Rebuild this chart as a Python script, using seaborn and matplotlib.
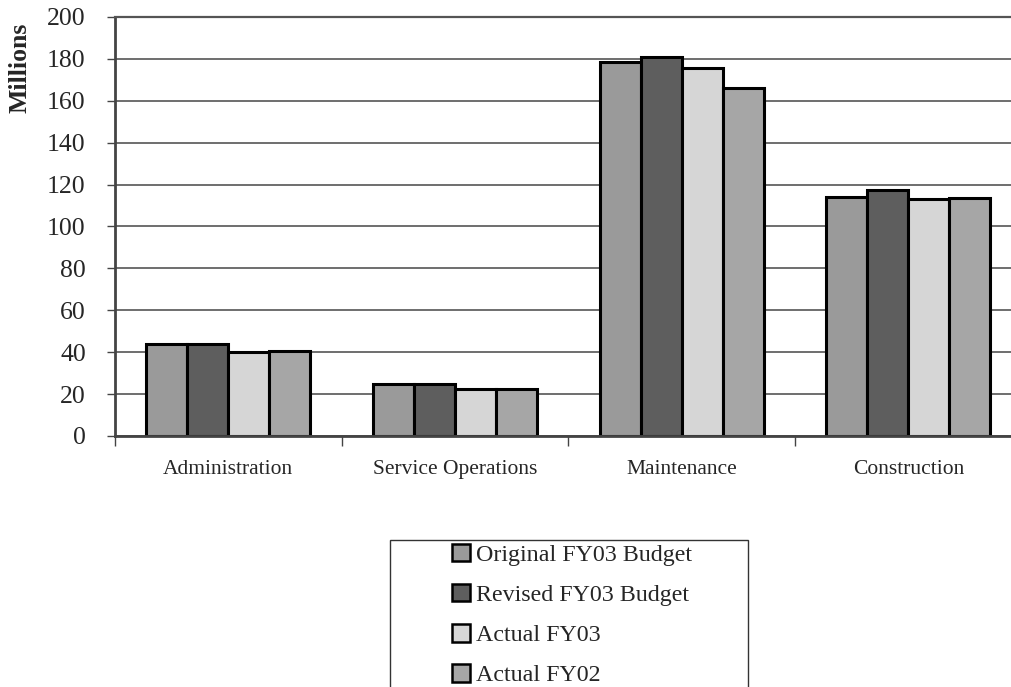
import pandas as pd
import numpy as np
import seaborn as sns
import matplotlib.pyplot as plt
from matplotlib.patches import Rectangle, Patch

categories = ["Administration", "Service Operations", "Maintenance", "Construction"]
series = ["Original FY03 Budget", "Revised FY03 Budget", "Actual FY03", "Actual FY02"]
original_fy03 = [43.8, 24.8, 178.5, 114.2]
revised_fy03 = [44.0, 25.0, 181.0, 117.5]
actual_fy03 = [40.2, 22.3, 175.5, 113.0]
actual_fy02 = [40.5, 22.4, 166.0, 113.6]
colors = ["#9a9a9a", "#5e5e5e", "#d6d6d6", "#a6a6a6"]

df = pd.DataFrame({
    "category": categories * 4,
    "series": np.repeat(series, 4),
    "value": original_fy03 + revised_fy03 + actual_fy03 + actual_fy02,
})

sns.set_style("white")
plt.rcParams["font.family"] = ["Liberation Serif", "DejaVu Serif"]

fig = plt.figure(figsize=(10.12, 6.87), dpi=100)
ax = fig.add_axes([0.1136, 0.3654, 0.896, 0.6099])

sns.barplot(data=df, x="category", y="value", hue="series", order=categories,
            hue_order=series, palette=colors, edgecolor="black", linewidth=2.2,
            width=0.723, gap=0, saturation=1, ax=ax, legend=False)

ax.set_ylim(0, 200)
ax.set_xlim(-0.5, 3.5)
ax.set_yticks(range(0, 201, 20))
ax.yaxis.grid(True, color="#555555", linewidth=1.2)
ax.set_axisbelow(True)
ax.set_xlabel("")
ax.set_ylabel("")

ax.spines["right"].set_visible(False)
ax.spines["top"].set_color("#555555")
ax.spines["top"].set_linewidth(1.6)
ax.spines["top"].set_linestyle((0, (2, 1)))
for s in ["left", "bottom"]:
    ax.spines[s].set_color("#444444")
    ax.spines[s].set_linewidth(2)

ax.tick_params(axis="y", which="major", left=True, length=6, width=1, color="#444444",
               pad=15, labelsize=18.5)
ax.tick_params(axis="x", which="major", length=0, pad=17, labelsize=15.5)
ax.set_xticks([-0.5, 0.5, 1.5, 2.5, 3.5], minor=True)
ax.tick_params(axis="x", which="minor", bottom=True, length=7, width=1, color="#444444")

fig.text(0.02, 0.902, "Millions", rotation=90, ha="center", va="center",
         fontsize=18.5, fontweight="bold")

# legend box, cut off at the bottom like the source
fig.patches.append(Rectangle((390 / 1012, -0.1), 358 / 1012, 0.1 + (687 - 540) / 687,
                             transform=fig.transFigure, facecolor="white",
                             edgecolor="#333333", linewidth=1.0))
handles = [Patch(facecolor=c, edgecolor="black", linewidth=1.8) for c in colors]
fig.legend(handles, series, loc="upper left", bbox_to_anchor=(442 / 1012, 1 - 534 / 687),
           frameon=False, fontsize=17.3, handlelength=0.75, handleheight=0.75,
           handletextpad=0.25, labelspacing=0.75, borderaxespad=0)

fig.savefig("out.png", dpi=100)
